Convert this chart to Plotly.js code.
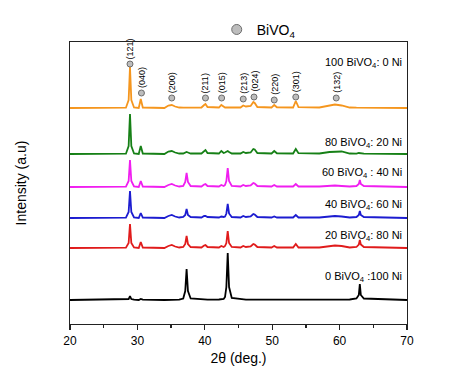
<!DOCTYPE html>
<html>
<head>
<meta charset="utf-8">
<script src="https://cdn.plot.ly/plotly-3.0.1.min.js"></script>
<style>html,body{margin:0;padding:0;background:#fff;}#chart{width:474px;height:379px;}</style>
</head>
<body>
<div id="chart"></div>
<script>
// 2θ sampling points (deg.)
const twoTheta = [20, 28.3, 28.7, 28.9, 29.1, 29.5, 30.2, 30.5, 30.8, 34.0, 34.6, 35.1, 35.6, 36.2, 36.8, 37.1, 37.3, 37.5, 37.9, 39.5, 39.9, 40.1, 40.4, 42.1, 42.45, 42.8, 43.0, 43.2, 43.4, 43.6, 44.0, 45.3, 45.7, 46.1, 46.8, 47.2, 47.4, 47.8, 49.9, 50.3, 50.7, 53.1, 53.5, 53.9, 57.0, 58.5, 59.3, 60.3, 61.5, 62.5, 62.85, 63.0, 63.15, 63.6, 70];

// Intensity above each pattern's own baseline (a.u.)
const int100_0 = [0,0.3,8,41,8,0.5,0,9,0.5,0,2.5,3,1.5,0.5,0.3,0.3,0.3,0.3,0.3,0.5,3,4,1,0.5,3,0.8,0.5,0.5,0.5,0.5,0.5,0.5,2.5,1.5,2,6,5,1,0.5,3,0.7,0.5,7,0.8,0.5,2,3.5,2.5,0.5,0.3,0.3,0.3,0.3,0.3,0];
const int80_20 = [0,0.3,8,40,8,0.5,0,8,0.5,0,2.5,3,1.5,0.5,0.5,1.5,2,1.5,0.5,0.5,3,4,1,0.5,3,1,1.5,2.5,3,2,0.5,0.5,2,1,1.5,5,4.5,1,0.5,3,0.7,0.5,5,0.8,0.5,2,2.5,2.5,0.5,0.3,1,1,1,0.3,0];
const int60_40 = [0,0.3,6,27,6,0.5,0,6,0.5,0,2,3,1.5,0.5,1,5,14,5,1,0.5,2.5,3,1,0.5,2,1,2,6,19,6,1,0.5,2,1,1.5,4,3.5,1,0.5,2,0.5,0.5,3,0.5,0.5,1.5,1.5,1,0.5,1,3,7,3,1,0];
const int40_60 = [0,0.3,6,27,6,0.5,0,5,0.5,0,2,3,1.5,0.5,1,3,9,3,1,0.5,2,2,1,0.5,1.5,1,1.5,4.5,14,4.5,1,0.5,2,1,1.5,4,3.5,1,0.5,1.5,0.5,0.5,3,0.5,0.5,1.5,2,1.5,0.5,1,3,7,3,1,0];
const int20_80 = [0,0.3,5,24,5,0.5,0,6,0.5,0,2,3,1.5,0.5,1,4,12,4,1,0.5,2.5,3,1,0.5,2,1,2,5,17,5,1,0.5,2,1,1.5,4,3.5,1,0.5,2,0.5,0.5,4,0.5,0.5,2,2.5,2,0.5,1,3.5,8,3.5,1,0];
const int0_100 = [0,0.3,1,4,1,0.3,0,1,0.3,0,0,0,0,0.3,1.5,9,31,9,1.5,0.5,0.3,0.3,0.3,0.5,0.5,1,3,13,47,13,2,0.5,0.3,0.3,0.3,0.3,0.3,0.3,0.3,0.3,0.3,0.3,0.3,0.3,0.3,0.3,0.3,0.3,0.5,1.5,5,16,5,1.5,0];

// Stacking offsets (a.u.)
const offsets = [216, 170, 137, 106, 76, 24];
const seriesNames = ["100 BiVO<sub>4</sub>: 0 Ni", "80 BiVO<sub>4</sub>: 20 Ni", "60 BiVO<sub>4</sub> : 40 Ni", "40 BiVO<sub>4</sub>: 60 Ni", "20 BiVO<sub>4</sub>: 80 Ni", "0 BiVO<sub>4</sub> :100 Ni"];
const seriesData = [int100_0, int80_20, int60_40, int40_60, int20_80, int0_100];
const seriesColors = ["#f5961e", "#168016", "#f01ef0", "#1c1cd0", "#e01b1b", "#000000"];
const labelY = [261, 181, 151, 119, 88, 47];

// BiVO4 reflections
const hkl = ["(121)", "(040)", "(200)", "(211)", "(015)", "(213)", "(024)", "(220)", "(301)", "(132)"];
const hklPos = [28.9, 30.6, 35.1, 40.1, 42.5, 45.7, 47.3, 50.3, 53.5, 59.5];
const hklY = [260, 231, 226, 226, 226, 225, 227, 224, 227, 226];

const font = "Liberation Sans, Arial, sans-serif";
const traces = [];
seriesData.forEach((arr, i) => {
  traces.push({
    x: twoTheta, y: arr.map(v => v + offsets[i]), type: "scatter", mode: "lines",
    line: {color: seriesColors[i], width: 1.8}, showlegend: false, hoverinfo: "skip"
  });
});
traces.push({
  x: hklPos, y: hklY, type: "scatter", mode: "markers",
  marker: {color: "#bdbdbd", size: 6, line: {color: "#6d6d6d", width: 1}},
  showlegend: false, hoverinfo: "skip"
});
traces.push({
  x: [null], y: [null], type: "scatter", mode: "markers", name: "BiVO<sub>4</sub>",
  marker: {color: "#bdbdbd", size: 10, line: {color: "#6d6d6d", width: 1}}
});

const annotations = [];
seriesNames.forEach((n, i) => {
  annotations.push({x: 69.6, y: labelY[i], xref: "x", yref: "y", text: n, showarrow: false,
    xanchor: "right", yanchor: "middle", font: {family: font, size: 11, color: "#000"}});
});
hkl.forEach((t, i) => {
  annotations.push({x: hklPos[i], y: hklY[i] + 3, xref: "x", yref: "y", text: t, showarrow: false,
    textangle: -90, xanchor: "center", yanchor: "bottom", font: {family: font, size: 9, color: "#000"}});
});

const layout = {
  width: 474, height: 379,
  margin: {l: 70, r: 67, t: 42, b: 55},
  paper_bgcolor: "#fff", plot_bgcolor: "#fff",
  font: {family: font, color: "#000"},
  xaxis: {
    range: [20, 70], showgrid: false, zeroline: false,
    showline: true, linecolor: "#222", linewidth: 1.3, mirror: true,
    ticks: "outside", ticklen: 5, tickcolor: "#222", tickwidth: 1.3,
    tickvals: [20, 30, 40, 50, 60, 70],
    minor: {ticks: "outside", ticklen: 3, tickcolor: "#222", tickvals: [25, 35, 45, 55, 65]},
    tickfont: {family: font, size: 12},
    title: {text: "2θ (deg.)", font: {family: font, size: 14}, standoff: 6}
  },
  yaxis: {
    range: [0, 282], showgrid: false, zeroline: false,
    showline: true, linecolor: "#222", linewidth: 1.3, mirror: true,
    ticks: "", showticklabels: false,
    title: {text: "Intensity (a.u)", font: {family: font, size: 14}, standoff: 38}
  },
  showlegend: true,
  legend: {x: 0.56, xanchor: "center", y: 1.043, yanchor: "middle", orientation: "h",
    itemwidth: 30, font: {family: font, size: 14}, bgcolor: "rgba(0,0,0,0)"},
  annotations: annotations
};
Plotly.newPlot("chart", traces, layout, {displayModeBar: false, staticPlot: true});
</script>
</body>
</html>
